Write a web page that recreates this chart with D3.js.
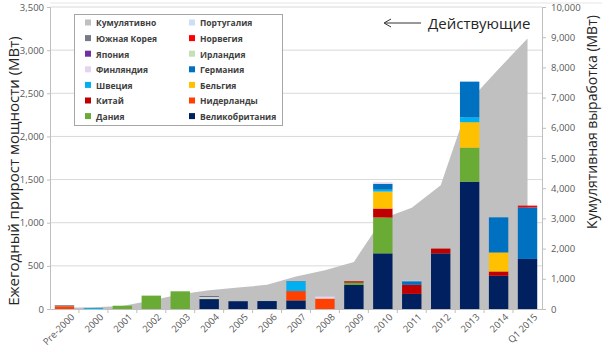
<!DOCTYPE html>
<html><head><meta charset="utf-8">
<script src="https://cdn.jsdelivr.net/npm/d3@7"></script>
<style>body{margin:0;background:#fff}svg{display:block}</style>
</head><body><svg id="c" width="616" height="360"></svg>
<script>
const categories = ["Pre-2000","2000","2001","2002","2003","2004","2005","2006","2007","2008","2009","2010","2011","2012","2013","2014","Q1 2015"];
// stack order bottom -> top
const seriesNames = ["Великобритания","Дания","Нидерланды","Китай","Бельгия","Швеция","Германия","Финляндия","Ирландия","Япония","Норвегия","Южная Корея","Португалия"];
const uk      = [0,0,0,0,0,115,90,92,100,0,278,645,175,645,1475,385,580];
const denmark = [0,0,38,155,205,0,0,0,0,0,28,415,0,0,395,0,0];
const netherl = [32,0,0,0,0,0,0,0,108,120,0,0,0,0,0,0,0];
const china   = [0,0,0,0,0,0,0,0,0,0,15,105,105,55,0,50,0];
const belgium = [0,0,0,0,0,0,0,0,0,0,0,195,0,0,295,220,0];
const sweden  = [0,12,0,0,0,0,0,0,110,0,0,22,0,0,57,0,0];
const germany = [0,0,0,0,0,0,0,0,5,0,0,68,42,0,413,407,598];
const finland = [0,0,0,0,0,0,0,0,0,24,0,18,0,0,0,0,0];
const ireland = [0,0,0,0,0,25,0,0,0,0,0,0,0,0,0,0,0];
const japan   = [0,0,0,0,0,8,0,0,0,0,0,0,0,0,0,0,0];
const norway  = [0,0,0,0,0,0,0,0,0,0,0,0,0,0,0,0,20];
const korea   = [12,0,0,0,0,0,0,0,0,0,0,0,0,0,0,0,0];
const portugal= [0,0,0,0,0,0,0,0,0,0,0,0,5,0,0,0,0];
const cumulative = [45,60,100,280,490,620,710,800,1080,1280,1560,3000,3350,4100,6900,7950,8960];
const leftTicks = [0,500,1000,1500,2000,2500,3000,3500];
const rightTicks = [0,1000,2000,3000,4000,5000,6000,7000,8000,9000,10000];

const seriesValues = [uk,denmark,netherl,china,belgium,sweden,germany,finland,ireland,japan,norway,korea,portugal];
const colors = {
  "Кумулятивно":"#c0c0c0","Южная Корея":"#767a86","Япония":"#7030a0","Финляндия":"#e4d4ee",
  "Швеция":"#00b0f0","Китай":"#c00000","Дания":"#6aab35","Португалия":"#c9e0f7",
  "Норвегия":"#ff0000","Ирландия":"#c5e0b4","Германия":"#0070c0","Бельгия":"#ffc000",
  "Нидерланды":"#ff4000","Великобритания":"#002060"
};
const legendCol1 = ["Кумулятивно","Южная Корея","Япония","Финляндия","Швеция","Китай","Дания"];
const legendCol2 = ["Португалия","Норвегия","Ирландия","Германия","Бельгия","Нидерланды","Великобритания"];

const svg = d3.select("#c");
const L = 50, R = 542, T = 7, B = 309;
const x = d3.scaleBand().domain(categories).range([L,R]).paddingInner(0.33).paddingOuter(0.165);
const yL = d3.scaleLinear().domain([0,3500]).range([B,T]);
const yR = d3.scaleLinear().domain([0,10000]).range([B,T]);
const font = "'Open Sans', 'Liberation Sans', sans-serif";

// faint top border
svg.append("line").attr("x1",L).attr("x2",R+60).attr("y1",3).attr("y2",3).attr("stroke","#e6e6e6");
// gridlines
svg.append("g").selectAll("line").data(leftTicks.slice(1)).join("line")
  .attr("x1",L).attr("x2",R).attr("y1",d=>yL(d)).attr("y2",d=>yL(d))
  .attr("stroke","#d9d9d9").attr("stroke-width",1);

// cumulative area
const area = d3.area().x((d,i)=>x(categories[i])+x.bandwidth()/2).y0(yR(0)).y1(d=>yR(d));
svg.append("path").datum(cumulative).attr("d",area).attr("fill",colors["Кумулятивно"]);

// stacked bars
const table = categories.map((c,i)=>{const o={cat:c}; seriesNames.forEach((s,j)=>o[s]=seriesValues[j][i]); return o;});
const stacked = d3.stack().keys(seriesNames)(table);
svg.append("g").selectAll("g").data(stacked).join("g").attr("fill",d=>colors[d.key])
  .selectAll("rect").data(d=>d).join("rect")
  .attr("x",d=>x(d.data.cat)).attr("width",x.bandwidth())
  .attr("y",d=>yL(d[1])).attr("height",d=>Math.max(0,yL(d[0])-yL(d[1])));

// axes
const axL = svg.append("g").attr("transform",`translate(${L},0)`)
  .call(d3.axisLeft(yL).tickValues(leftTicks).tickFormat(d3.format(",")).tickSize(3).tickPadding(3));
const axR = svg.append("g").attr("transform",`translate(${R},0)`)
  .call(d3.axisRight(yR).tickValues(rightTicks).tickFormat(d3.format(",")).tickSize(4).tickPadding(5));
const axB = svg.append("g").attr("transform",`translate(0,${B})`)
  .call(d3.axisBottom(x).tickSize(0).tickPadding(6));
[axL,axR,axB].forEach(a=>{
  a.select(".domain").attr("stroke","#bfbfbf");
  a.selectAll(".tick line").attr("stroke","#bfbfbf");
  a.selectAll("text").attr("fill","#595959").style("font-family",font).style("font-size","9.5px");
});
// category separators
svg.append("g").selectAll("line").data(categories.slice(1)).join("line")
  .attr("x1",d=>x(d)-x.step()*x.paddingInner()/2).attr("x2",d=>x(d)-x.step()*x.paddingInner()/2)
  .attr("y1",B).attr("y2",B+4).attr("stroke","#bfbfbf");
axB.selectAll(".tick text").attr("text-anchor","end")
  .attr("transform","translate(4,2) rotate(-45)").attr("dy","0.35em").attr("dx","0");

// axis titles
svg.append("text").attr("transform","translate(19,171) rotate(-90)").attr("text-anchor","middle")
  .style("font-family",font).style("font-size","15px").attr("fill","#262626")
  .text("Ежегодный прирост мощности (МВт)");
svg.append("text").attr("transform","translate(597,122) rotate(-90)").attr("text-anchor","middle")
  .style("font-family",font).style("font-size","14px").attr("fill","#262626")
  .text("Кумулятивная выработка (МВт)");

// annotation
svg.append("line").attr("x1",385).attr("x2",421).attr("y1",23).attr("y2",23).attr("stroke","#333").attr("stroke-width",1);
svg.append("path").attr("d","M391,19 L384,23 L391,27").attr("fill","none").attr("stroke","#333");
svg.append("text").attr("x",428).attr("y",29).style("font-family",font).style("font-size","15px")
  .attr("fill","#262626").text("Действующие");

// legend
const lg = svg.append("g");
lg.append("rect").attr("x",74.5).attr("y",14.5).attr("width",208).attr("height",111)
  .attr("fill","#fff").attr("stroke","#a6a6a6");
[[legendCol1,85],[legendCol2,189]].forEach(([items,lx])=>{
  items.forEach((name,i)=>{
    const cy = 23.5 + i*15.6;
    lg.append("rect").attr("x",lx).attr("y",cy-4).attr("width",6).attr("height",6).attr("fill",colors[name]);
    lg.append("text").attr("x",lx+11).attr("y",cy).attr("dy","0.35em")
      .style("font-family",font).style("font-size","8.5px").style("font-weight","bold")
      .attr("fill","#404040").text(name);
  });
});
</script></body></html>
